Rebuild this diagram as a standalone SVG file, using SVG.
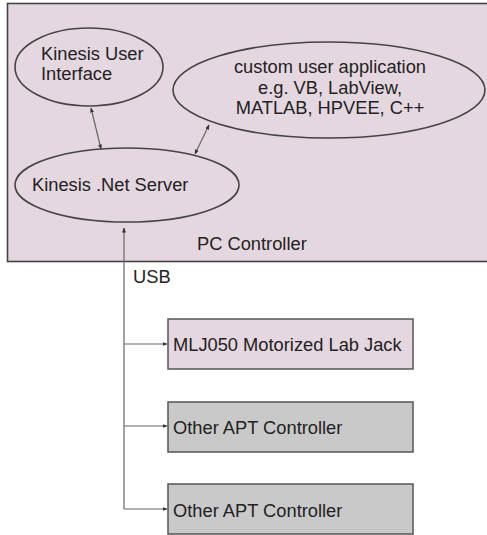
<svg xmlns="http://www.w3.org/2000/svg" width="487" height="535" viewBox="0 0 487 535">
<style>
text{font-family:"Liberation Sans",Arial,sans-serif;font-size:18.3px;fill:#222}
.ell{fill:none;stroke:#444;stroke-width:1.6}
.box{stroke:#555;stroke-width:1.5}
.con{fill:none;stroke:#666;stroke-width:1.2}
</style>
<defs>
<marker id="ah" viewBox="0 0 10 10" refX="9" refY="5" markerWidth="5" markerHeight="5" orient="auto-start-reverse" markerUnits="userSpaceOnUse">
<path d="M0,1 L10,5 L0,9 z" fill="#333"/>
</marker>
</defs>
<rect width="487" height="535" fill="#fff"/>
<g id="pc-controller">
<rect x="7.5" y="3.5" width="482" height="258" fill="#e5d7e0" stroke="#444" stroke-width="1.6"/>
<text x="197" y="250">PC Controller</text>
</g>
<g id="kinesis-ui">
<ellipse class="ell" cx="89" cy="67" rx="74" ry="39"/>
<text x="41" y="60">Kinesis User</text>
<text x="41" y="80">Interface</text>
</g>
<g id="custom-app">
<ellipse class="ell" cx="329" cy="90" rx="156" ry="48"/>
<text x="330" y="73" text-anchor="middle">custom user application</text>
<text x="330" y="94" text-anchor="middle">e.g. VB, LabView,</text>
<text x="330" y="114" text-anchor="middle">MATLAB, HPVEE, C++</text>
</g>
<g id="net-server">
<ellipse class="ell" cx="127" cy="185" rx="112" ry="37"/>
<text x="32" y="191">Kinesis .Net Server</text>
</g>
<g id="mlj050">
<rect class="box" x="168" y="319" width="245" height="50" fill="#e5d7e0"/>
<text x="173" y="351">MLJ050 Motorized Lab Jack</text>
</g>
<g id="apt1">
<rect class="box" x="168" y="402" width="245" height="50" fill="#c9c9c9"/>
<text x="173" y="434">Other APT Controller</text>
</g>
<g id="apt2">
<rect class="box" x="168" y="484" width="245" height="50" fill="#c9c9c9"/>
<text x="173" y="517">Other APT Controller</text>
</g>
<g id="usb-label">
<text x="133" y="283">USB</text>
</g>
<g id="connectors">
<line class="con" x1="91" y1="108" x2="101" y2="149" marker-start="url(#ah)" marker-end="url(#ah)"/>
<line class="con" x1="209" y1="125" x2="195" y2="154" marker-start="url(#ah)" marker-end="url(#ah)"/>
<line class="con" x1="124" y1="509" x2="124" y2="228" marker-end="url(#ah)"/>
<line class="con" x1="124" y1="344" x2="167" y2="344" marker-end="url(#ah)"/>
<line class="con" x1="124" y1="426" x2="167" y2="426" marker-end="url(#ah)"/>
<line class="con" x1="124" y1="509" x2="167" y2="509" marker-end="url(#ah)"/>
</g>
</svg>
